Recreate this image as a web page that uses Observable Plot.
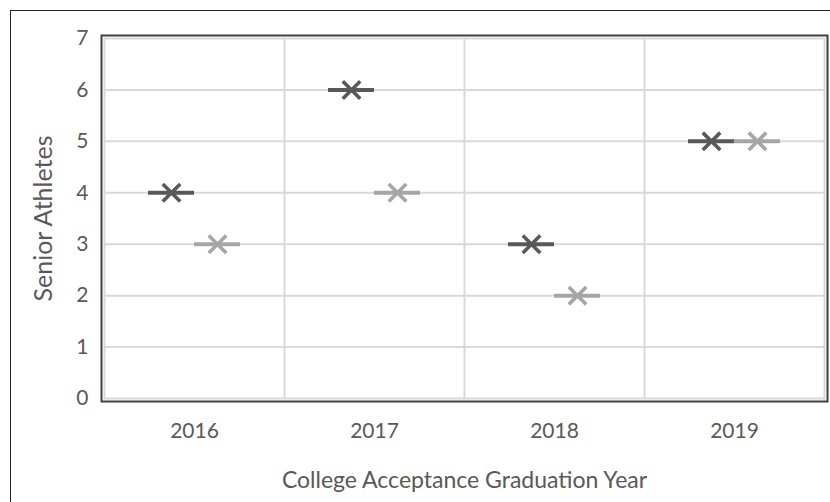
<!DOCTYPE html>
<html>
<head>
<meta charset="utf-8">
<script src="https://cdn.jsdelivr.net/npm/d3@7"></script>
<script src="https://cdn.jsdelivr.net/npm/@observablehq/plot@0.6"></script>
<style>
  html, body { margin: 0; padding: 0; background: #fff; overflow: hidden; }
  #wrap { position: relative; width: 830px; height: 502px; }
  #edge { position: absolute; left: 10px; top: 10px; width: 900px; height: 600px;
          border: 1.5px solid #262626; box-sizing: border-box; pointer-events: none; }
  #chart { position: absolute; left: 0; top: 0; }
</style>
</head>
<body>
<div id="wrap"><div id="chart"></div><div id="edge"></div></div>
<script>
// Graduation years and the two athlete counts per year
const years = ["2016", "2017", "2018", "2019"];
const seriesDark = [4, 6, 3, 5];
const seriesLight = [3, 4, 2, 5];
const yTicks = [0, 1, 2, 3, 4, 5, 6, 7];

const dark = years.map((year, i) => ({year, value: seriesDark[i]}));
const light = years.map((year, i) => ({year, value: seriesLight[i]}));

const font = "Lato, 'Open Sans', sans-serif";
const textColor = "#595959";
const gridColor = "#d9d9d9";

const chart = Plot.plot({
  width: 830,
  height: 502,
  marginLeft: 104,
  marginRight: 6,
  marginTop: 38,
  marginBottom: 104,
  style: {fontFamily: font, fontSize: "21px", color: textColor, background: "transparent"},
  x: {domain: years, paddingInner: 0.744, paddingOuter: 0.372},
  y: {domain: [0, 7]},
  marks: [
    // horizontal gridlines
    Plot.ruleY(yTicks.slice(1, -1), {stroke: gridColor, strokeWidth: 2}),
    // vertical gridlines between year groups
    Plot.ruleX(years.slice(1), {dx: -90, stroke: gridColor, strokeWidth: 2}),
    // inner light border and outer dark border of the plot area
    Plot.frame({stroke: gridColor, strokeWidth: 2}),
    Plot.frame({stroke: "#404040", strokeWidth: 2, inset: -3}),
    // axes
    Plot.axisY(yTicks, {tickSize: 0, tickPadding: 16, tickFormat: d3.format("d"), label: null, fontSize: 21, fill: textColor}),
    Plot.axisX(years, {tickSize: 0, tickPadding: 25, label: null, fontSize: 21, fill: textColor}),
    // horizontal dashes
    Plot.tickY(dark, {x: "year", y: "value", dx: -23, stroke: "#595959", strokeWidth: 4}),
    Plot.tickY(light, {x: "year", y: "value", dx: 23, stroke: "#a6a6a6", strokeWidth: 4}),
    // X markers
    Plot.dot(dark, {x: "year", y: "value", dx: -23, symbol: "times", r: 8, stroke: "#595959", strokeWidth: 3.6}),
    Plot.dot(light, {x: "year", y: "value", dx: 23, symbol: "times", r: 8, stroke: "#a6a6a6", strokeWidth: 3.6}),
    // axis titles
    Plot.text(["College Acceptance Graduation Year"], {frameAnchor: "bottom", dy: 89, fontSize: 23, fill: textColor}),
    Plot.text(["Senior Athletes"], {frameAnchor: "left", textAnchor: "middle", dx: -61, rotate: -90, fontSize: 25, fill: textColor})
  ]
});

document.getElementById("chart").appendChild(chart);
</script>
</body>
</html>
